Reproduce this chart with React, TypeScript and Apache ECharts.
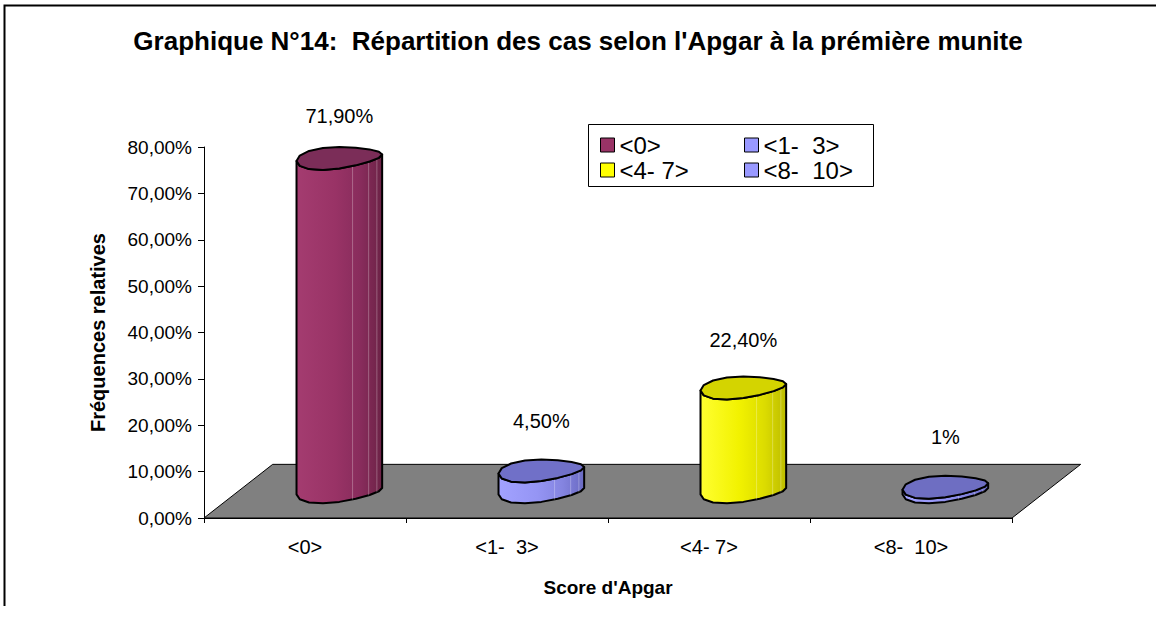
import React, { useEffect, useRef } from 'react';
import * as echarts from 'echarts';

// ---- data ----
const categories = ['<0>', '<1-  3>', '<4- 7>', '<8-  10>'];
const values = [71.9, 4.5, 22.4, 1];
const valueLabels = ['71,90%', '4,50%', '22,40%', '1%'];
const yTickLabels = ['0,00%', '10,00%', '20,00%', '30,00%', '40,00%', '50,00%', '60,00%', '70,00%', '80,00%'];
const yTickStep = 10;
const titleText = "Graphique N°14:  Répartition des cas selon l'Apgar à la prémière munite";
const xAxisTitle = "Score d'Apgar";
const yAxisTitle = 'Fréquences relatives';

// ---- styles ----
const legendColors = ['#993366', '#9999FF', '#FFFF00', '#9999FF'];
const bodyStops = [
  ['#a43c70', '#993366', '#882c5c', '#6c2246'],
  ['#a2a2ff', '#9595f4', '#8484e0', '#6a6ac2'],
  ['#ffff30', '#f2f200', '#dcdc00', '#bcbc00'],
  ['#a2a2ff', '#9595f4', '#8484e0', '#6a6ac2'],
];
const topColors = ['#7b2d58', '#7070c8', '#d4d400', '#6e6ec2'];
const FONT = 'Liberation Sans, Arial, Helvetica, sans-serif';
const DEPTH_X = 0.34; // share of a category width
const DEPTH_Y = 0.1446; // share of the grid height
const BAR_RX = 0.212; // share of a category width
const BAR_RY = 0.25; // share of rx

function renderFloor(params: any) {
  const cs = params.coordSys;
  const catW = cs.width / categories.length;
  const dx = catW * DEPTH_X;
  const dy = cs.height * DEPTH_Y;
  const x0 = cs.x;
  const x1 = cs.x + cs.width;
  const y0 = cs.y + cs.height;
  return {
    type: 'polygon',
    shape: { points: [[x0, y0], [x1, y0], [x1 + dx, y0 - dy], [x0 + dx, y0 - dy]] },
    style: { fill: '#808080', stroke: '#000', lineWidth: 1 },
  };
}

function renderBar(params: any, api: any) {
  const idx = api.value(0);
  const v = api.value(1);
  const cs = params.coordSys;
  const base = api.coord([idx, 0]);
  const top = api.coord([idx, v]);
  const catW = api.size([1, 0])[0];
  const dx = catW * DEPTH_X;
  const dy = cs.height * DEPTH_Y;
  const cx = base[0] + dx / 2;
  const yb = base[1] - dy / 2;
  const yt = top[1] - dy / 2;
  const rx = catW * BAR_RX;
  const ry = rx * BAR_RY;
  const tilt = ry * 0.3;
  const wave = ry * 0.14;
  const pt = (t: number, cy: number) => [
    cx + rx * Math.cos(t),
    cy + ry * Math.sin(t) - tilt * Math.cos(t) - wave * Math.sin(2 * t),
  ];
  const N = 16;
  const body: number[][] = [];
  for (let k = 0; k <= N / 2; k++) body.push(pt((k / (N / 2)) * Math.PI, yb));
  for (let k = N / 2; k >= 0; k--) body.push(pt((k / (N / 2)) * Math.PI, yt));
  const cap: number[][] = [];
  for (let k = 0; k < N; k++) cap.push(pt((k / N) * Math.PI * 2, yt));
  const stops = bodyStops[idx];
  const children: any[] = [
    {
      type: 'polygon',
      shape: { points: body },
      style: {
        fill: new echarts.graphic.LinearGradient(0, 0, 1, 0, [
          { offset: 0, color: stops[0] },
          { offset: 0.45, color: stops[1] },
          { offset: 0.75, color: stops[2] },
          { offset: 1, color: stops[3] },
        ]),
        stroke: '#000',
        lineWidth: 2,
        lineJoin: 'round',
      },
    },
  ];
  [0.16, 0.26, 0.4].forEach((f) => {
    const t = f * Math.PI;
    const a = pt(t, yt);
    const b = pt(t, yb);
    if (b[1] - a[1] > 3) {
      children.push({
        type: 'line',
        shape: { x1: a[0], y1: a[1], x2: b[0], y2: b[1] },
        style: { stroke: 'rgba(255,255,255,0.28)', lineWidth: 1 },
      });
    }
  });
  children.push({
    type: 'polygon',
    shape: { points: cap },
    style: { fill: topColors[idx], stroke: '#000', lineWidth: 2, lineJoin: 'round' },
  });
  children.push({
    type: 'text',
    style: {
      text: valueLabels[idx],
      x: cx,
      y: yt - ry - 39 + 0.025 * (yb - yt),
      fill: '#000',
      fontSize: 20,
      fontFamily: FONT,
      align: 'center',
      verticalAlign: 'middle',
    },
  });
  return { type: 'group', children };
}

export default function App() {
  const ref = useRef<HTMLDivElement>(null);
  useEffect(() => {
    document.body.style.margin = '0';
    if (!ref.current) return;
    const chart = echarts.init(ref.current, undefined, { renderer: 'svg' });
    const legendText = { fontSize: 24, fontFamily: FONT, color: '#000', lineHeight: 24 };
    const legendCommon = {
      orient: 'vertical',
      itemWidth: 14,
      itemHeight: 14,
      itemGap: 1,
      icon: 'rect',
      padding: 0,
      selectedMode: false,
      textStyle: legendText,
      itemStyle: { borderColor: '#000', borderWidth: 1 },
    };
    const barSeries = categories.map((name, i) => ({
      type: 'custom',
      name,
      coordinateSystem: 'cartesian2d',
      renderItem: renderBar,
      data: [[i, values[i]]],
      itemStyle: { color: legendColors[i] },
      clip: false,
      z: 3,
    }));
    chart.setOption({
      animation: false,
      backgroundColor: '#fff',
      title: {
        text: titleText,
        left: 'center',
        top: 28,
        padding: 0,
        textStyle: { fontSize: 26, fontWeight: 'bold', fontFamily: FONT, color: '#000' },
      },
      legend: [
        { ...legendCommon, data: [categories[0], categories[2]], left: 600, top: 133 },
        { ...legendCommon, data: [categories[1], categories[3]], left: 744, top: 133 },
      ],
      grid: { left: 204, top: 147, width: 808, height: 371 },
      xAxis: {
        type: 'category',
        data: categories,
        boundaryGap: true,
        axisLine: { lineStyle: { color: '#000', width: 1 } },
        axisTick: { show: true, length: 5, alignWithLabel: false, lineStyle: { color: '#000' } },
        axisLabel: { interval: 0, fontSize: 20, fontFamily: FONT, color: '#000', margin: 19, lineHeight: 20 },
        name: xAxisTitle,
        nameLocation: 'middle',
        nameGap: 69,
        nameTextStyle: { fontSize: 19, fontWeight: 'bold', fontFamily: FONT, color: '#000', verticalAlign: 'middle' },
      },
      yAxis: {
        type: 'value',
        min: 0,
        max: (yTickLabels.length - 1) * yTickStep,
        interval: yTickStep,
        axisLine: { show: true, lineStyle: { color: '#000', width: 1 } },
        axisTick: { show: true, length: 6, lineStyle: { color: '#000' } },
        splitLine: { show: false },
        axisLabel: {
          formatter: (v: number) => yTickLabels[Math.round(v / yTickStep)],
          fontSize: 19,
          fontFamily: FONT,
          color: '#000',
          margin: 12,
        },
        name: yAxisTitle,
        nameLocation: 'middle',
        nameRotate: 90,
        nameGap: 106,
        nameTextStyle: {
          fontSize: 20,
          fontWeight: 'bold',
          fontFamily: FONT,
          color: '#000',
          align: 'center',
          verticalAlign: 'middle',
        },
      },
      graphic: [
        {
          type: 'polyline',
          shape: { points: [[4.5, 606], [4.5, 5.5], [1156, 5.5]] },
          style: { stroke: '#000', lineWidth: 2, fill: 'none' },
        },
        {
          type: 'rect',
          shape: { x: 588.5, y: 124.5, width: 285, height: 62 },
          style: { stroke: '#000', lineWidth: 1, fill: 'none' },
        },
      ],
      series: [
        {
          type: 'custom',
          name: 'floor',
          coordinateSystem: 'cartesian2d',
          renderItem: renderFloor,
          data: [[0, 0]],
          clip: false,
          silent: true,
          z: 1,
        },
        ...barSeries,
      ],
    });
    return () => chart.dispose();
  }, []);
  return <div ref={ref} style={{ width: 1156, height: 622 }} />;
}
